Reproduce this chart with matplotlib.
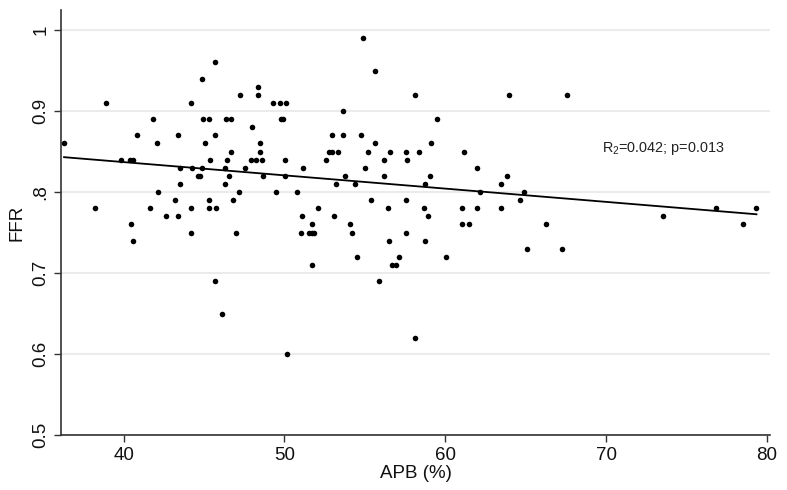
import matplotlib
matplotlib.use("Agg")
import matplotlib.pyplot as plt
import numpy as np

plt.rcParams['font.family'] = ['Liberation Sans', 'DejaVu Sans']
plt.rcParams['mathtext.fontset'] = 'custom'
plt.rcParams['mathtext.rm'] = 'Liberation Sans'

apb = [36.29, 38.92, 38.21, 39.86, 40.41, 40.58, 40.83, 40.44, 40.58, 41.83,
       42.07, 42.12, 41.66, 42.63, 43.17, 43.36, 43.36, 43.48, 43.53,
       45.68, 44.85, 44.17, 44.96, 45.29, 46.39, 46.70, 45.68, 45.04, 45.35,
       46.68, 46.43, 44.23, 44.87, 46.27, 44.62, 44.75, 46.58, 46.27, 45.33,
       45.33, 45.74, 44.17, 44.17, 46.78, 47.16, 46.97, 45.68, 46.14, 50.16,
       47.26, 48.38, 48.38, 49.29, 49.71, 50.08, 47.95, 49.77, 49.91, 48.48,
       48.48, 47.92, 48.23, 48.61, 50.02, 47.55, 51.16, 48.67, 50.02, 49.50,
       50.79, 51.10, 51.01,
       54.89, 55.62, 58.13, 53.67, 52.96, 53.67, 54.79, 55.62, 52.80, 52.96,
       53.32, 55.20, 56.59, 57.53, 58.34, 52.57, 56.20, 57.63, 55.01, 53.79,
       56.20, 53.22, 54.38, 55.41, 57.53, 52.09, 56.43, 53.09, 51.70, 54.08,
       51.53, 51.70, 51.84, 54.19, 57.53, 56.53, 54.50, 57.11, 51.70, 56.70,
       56.93, 55.89, 58.13,
       63.96, 59.46, 59.10, 61.16, 61.97, 59.04, 63.83, 58.71, 63.44, 62.15,
       64.89, 64.66, 58.65, 61.03, 61.97, 63.44, 58.94, 61.03, 61.45, 58.71,
       60.04, 65.08,
       67.57, 66.26, 67.28, 73.55, 76.86, 78.54, 79.36]

ffr = [0.86, 0.91, 0.78, 0.84, 0.84, 0.84, 0.87, 0.76, 0.74, 0.89,
       0.86, 0.80, 0.78, 0.77, 0.79, 0.87, 0.77, 0.81, 0.83,
       0.96, 0.94, 0.91, 0.89, 0.89, 0.89, 0.89, 0.87, 0.86, 0.84,
       0.85, 0.84, 0.83, 0.83, 0.83, 0.82, 0.82, 0.82, 0.81, 0.79,
       0.78, 0.78, 0.78, 0.75, 0.79, 0.80, 0.75, 0.69, 0.65, 0.60,
       0.92, 0.93, 0.92, 0.91, 0.91, 0.91, 0.88, 0.89, 0.89, 0.86,
       0.85, 0.84, 0.84, 0.84, 0.84, 0.83, 0.83, 0.82, 0.82, 0.80,
       0.80, 0.77, 0.75,
       0.99, 0.95, 0.92, 0.90, 0.87, 0.87, 0.87, 0.86, 0.85, 0.85,
       0.85, 0.85, 0.85, 0.85, 0.85, 0.84, 0.84, 0.84, 0.83, 0.82,
       0.82, 0.81, 0.81, 0.79, 0.79, 0.78, 0.78, 0.77, 0.76, 0.76,
       0.75, 0.75, 0.75, 0.75, 0.75, 0.74, 0.72, 0.72, 0.71, 0.71,
       0.71, 0.69, 0.62,
       0.92, 0.89, 0.86, 0.85, 0.83, 0.82, 0.82, 0.81, 0.81, 0.80,
       0.80, 0.79, 0.78, 0.78, 0.78, 0.78, 0.77, 0.76, 0.76, 0.74,
       0.72, 0.73,
       0.92, 0.76, 0.73, 0.77, 0.78, 0.76, 0.78]

# fitted line endpoints
fit_x = [36.29, 79.36]
fit_y = [0.843, 0.7725]

xticks = [40, 50, 60, 70, 80]
yticks = [0.5, 0.6, 0.7, 0.8, 0.9, 1.0]
ytick_labels = ['0.5', '0.6', '0.7', '.8', '0.9', '1']

annotation = r'$\mathregular{R_2}$=0.042; p=0.013'

fig = plt.figure(figsize=(7.87, 4.90), dpi=100)
ax = fig.add_axes([61 / 787, (490 - 435) / 490, (770 - 61) / 787, (435 - 10) / 490])

ax.set_xlim(36.1, 80.2)
ax.set_ylim(0.5, 1.0247)

for yv in yticks:
    ax.axhline(yv, color='#ebebeb', lw=1.5, zorder=0)

ax.scatter(apb, ffr, s=16, color='black', zorder=3, linewidths=0)
ax.plot(fit_x, fit_y, color='black', lw=1.3, zorder=4)

ax.text(69.75, 0.854, annotation, fontsize=10.4, va='center', ha='left', color='#222222')

ax.set_xticks(xticks)
ax.set_xticklabels([str(v) for v in xticks])
ax.set_yticks(yticks)
ax.set_yticklabels(ytick_labels, rotation=90, va='center')

for s in ['top', 'right']:
    ax.spines[s].set_visible(False)
for s in ['left', 'bottom']:
    ax.spines[s].set_color('#333333')
    ax.spines[s].set_linewidth(1.2)

ax.tick_params(axis='both', direction='out', length=5, width=1, color='#333333',
               labelsize=13.5, labelcolor='#111111')
ax.set_xlabel('APB (%)', fontsize=13.5, color='#111111', labelpad=1)
ax.set_ylabel('FFR', fontsize=13.5, color='#111111', labelpad=5)

fig.savefig('out.png', dpi=100)
